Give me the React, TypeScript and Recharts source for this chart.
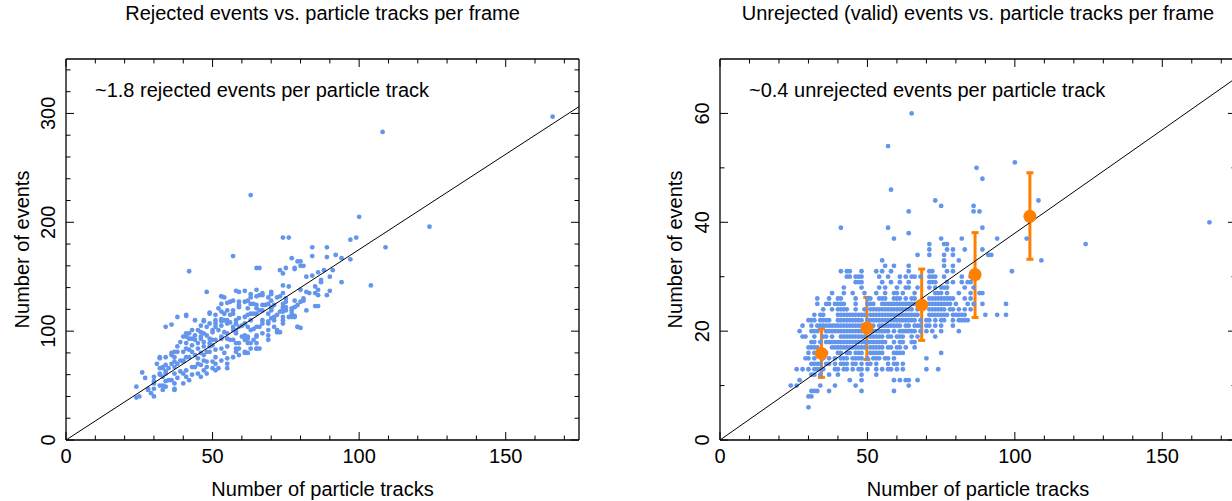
import { ScatterChart, Scatter, XAxis, YAxis, ErrorBar } from 'recharts';

const FONT = '"Liberation Sans", Arial, Helvetica, sans-serif';
const BLUE = '#6495ED';
const ORANGE = '#FF7F00';
const FS = 20;

// rejected events vs particle tracks, [tracks, events]
const REJECTED: [number, number][] = [
  [166, 297], [108, 283], [63, 225], [100, 205], [124, 196], [109, 177], [104, 142], [97, 184], [99, 186],
  [97, 166], [94, 145], [91, 156], [92, 170], [89, 177], [89, 168], [84, 177], [84, 169], [74, 186], [76, 186],
  [57, 169], [42, 155], [48, 136], [77, 167], [79, 164], [73, 156], [75, 158], [65, 158], [66, 158], [78, 158],
  [80, 160], [53, 132], [34, 104], [36, 106], [38, 113], [41, 114], [24, 49], [24, 39], [26, 62], [27, 57],
  [30, 40], [28, 46], [37, 46], [55, 66], [79, 104], [72, 99], [61, 80], [65, 84], [85, 123], [82, 119],
  [89, 133], [90, 137],
  [80, 164], [81, 160], [94, 167], [74, 153], [78, 157], [82, 150], [84, 151], [86, 154], [88, 156], [87, 145],
  [90, 150], [86, 138], [86, 133], [86, 123], [80, 103], [78, 113], [77, 113], [78, 122], [80, 127], [81, 130],
  [82, 136], [80, 138], [75, 127], [74, 122], [73, 118], [74, 113], [71, 110], [73, 99], [75, 119], [77, 121],
  [74, 142], [76, 141], [74, 135], [72, 131], [70, 136], [70, 128], [69, 125], [70, 121], [67, 135], [66, 133],
  [65, 138], [63, 131], [62, 128], [64, 125], [62, 121], [65, 121], [58, 137], [61, 137], [54, 131], [55, 126],
  [57, 128], [59, 127], [59, 122], [57, 119], [56, 115], [49, 117], [51, 115], [53, 111], [54, 110], [55, 107],
  [53, 105], [51, 104], [50, 101], [47, 110], [46, 105], [44, 110], [43, 101], [41, 98], [42, 93], [44, 96],
  [46, 99], [48, 96], [49, 93], [41, 95], [39, 90], [38, 86], [37, 81], [36, 78], [34, 76], [37, 76],
  [40, 81], [41, 84], [43, 87], [45, 89], [47, 90], [49, 86], [50, 87], [51, 92], [53, 84], [55, 86],
  [54, 80], [51, 76], [49, 81], [47, 78], [45, 75], [43, 81], [42, 76], [40, 72], [38, 70], [37, 67],
  [35, 66], [33, 66], [32, 76], [31, 70], [32, 66], [30, 58], [32, 60], [33, 58], [35, 55], [37, 52],
  [38, 57], [40, 61], [41, 64], [43, 67], [45, 70], [47, 73], [48, 67], [51, 70], [58, 81], [59, 84],
  [61, 81], [63, 84], [65, 89], [62, 89], [60, 95], [62, 95], [65, 96], [67, 98], [69, 101], [66, 104],
  [64, 102], [67, 110], [69, 107], [71, 104], [63, 110], [61, 107], [59, 104], [58, 101], [57, 104], [55, 98],
  [53, 95], [56, 92], [58, 89], [55, 70], [51, 64], [48, 61], [46, 58], [42, 55], [34, 49], [33, 50],
  [30, 52], [28, 47], [29, 43], [25, 40], [72, 101], [69, 96], [71, 113], [67, 124], [66, 119], [65, 116],
  [69, 116], [63, 116], [61, 113], [58, 110], [56, 108], [54, 116], [52, 121], [53, 125], [51, 110], [48, 104],
  [46, 93], [45, 84], [43, 93], [39, 73], [36, 70], [34, 61], [70, 122], [74, 120], [77, 116], [74, 110],
  [76, 113], [81, 128], [83, 135], [85, 141], [87, 147], [85, 135],
  [53, 132], [59, 136], [63, 134], [65, 132], [67, 133], [69, 131], [70, 134], [73, 132], [75, 130], [78, 128],
  [79, 124], [78, 114], [79, 104], [74, 107], [56, 127], [59, 124], [61, 127], [63, 125], [65, 124], [67, 119],
  [64, 116], [62, 115], [59, 112], [57, 116], [55, 119], [53, 118], [49, 116], [47, 109], [49, 107], [51, 107],
  [53, 109], [55, 110], [58, 107], [60, 105], [62, 104], [63, 101], [65, 104], [67, 107], [69, 109], [70, 112],
  [72, 115], [74, 118], [75, 122], [77, 119], [70, 119], [68, 124], [71, 124], [74, 125], [41, 115], [45, 101],
  [42, 98], [40, 95], [41, 89], [44, 92], [46, 95], [47, 98], [50, 99], [52, 101], [54, 99], [57, 101],
  [58, 98], [61, 96], [62, 93], [64, 92], [65, 95], [69, 92], [66, 84], [65, 84], [62, 80], [59, 89],
  [57, 92], [55, 93], [53, 93], [50, 92], [49, 89], [47, 86], [42, 83], [38, 81], [36, 80], [32, 75],
  [33, 67], [34, 69], [37, 72], [40, 73], [41, 76], [44, 78], [46, 80], [48, 81], [51, 83], [58, 84],
  [59, 78], [57, 76], [55, 75], [53, 73], [50, 72], [48, 72], [46, 69], [44, 67], [39, 63], [37, 61],
  [34, 63], [32, 61], [30, 54], [32, 50], [34, 54], [36, 55], [41, 58], [43, 60], [45, 61], [47, 64],
  [50, 66], [52, 66], [40, 52], [37, 47], [30, 47], [33, 46], [63, 89], [61, 92],
];

// unrejected events: [events, tracks of each frame with that many events]
const VALID_ROWS: [number, number[]][] = [
  [60, [65]], [54, [57]], [51, [100]], [50, [87]], [48, [89]], [46, [58]],
  [44, [73, 108]], [43, [75, 86]], [42, [64, 86, 88]], [40, [166]], [39, [41, 57, 89]], [38, [64]],
  [37, [59, 75, 82, 94, 104]], [36, [71, 76, 77, 124]], [35, [71, 77, 79, 83, 89]],
  [34, [67, 71, 76, 79, 91, 92]], [33, [55, 76, 81, 109]], [32, [56, 59, 64, 76, 79]],
  [31, [41, 43, 44, 48, 53, 55, 58, 64, 71, 72, 77, 79, 99]],
  [30, [43, 44, 46, 47, 48, 54, 57, 61, 63, 65, 66, 68, 71, 72, 73, 76, 82, 85]],
  [29, [46, 47, 48, 55, 58, 61, 64, 71, 72, 73, 77, 79, 82, 84, 85]],
  [28, [42, 48, 54, 56, 60, 63, 64, 67, 71, 73, 75, 76, 77, 83, 86]],
  [27, [38, 42, 45, 49, 53, 56, 59, 60, 62, 66, 73, 74, 75, 77, 81, 85, 88, 89]],
  [26, [33, 37, 40, 41, 46, 50, 51, 54, 55, 56, 59, 60, 61, 63, 65, 66, 71, 72, 73, 74, 75, 76, 77, 78, 79, 83, 85]],
  [25, [33, 36, 37, 39, 40, 41, 42, 46, 50, 51, 52, 55, 56, 57, 58, 59, 60, 61, 62, 63, 64, 65, 66, 70, 71, 72, 73, 74, 75, 76, 77, 78, 80, 84, 86, 89, 97]],
  [24, [35, 38, 40, 41, 42, 43, 46, 49, 51, 52, 53, 54, 55, 56, 57, 58, 59, 60, 61, 62, 63, 64, 65, 67, 71, 72, 73, 74, 75, 76, 78, 79, 81, 83, 85]],
  [23, [32, 34, 35, 40, 41, 42, 43, 44, 45, 46, 47, 48, 49, 51, 52, 53, 54, 55, 56, 57, 58, 59, 60, 61, 62, 63, 64, 65, 66, 67, 71, 72, 73, 74, 75, 76, 77, 79, 80, 81, 82, 83, 90, 94, 97]],
  [22, [30, 31, 32, 34, 35, 36, 37, 40, 41, 42, 43, 44, 45, 46, 47, 48, 50, 51, 52, 53, 54, 55, 56, 57, 58, 59, 60, 61, 62, 63, 64, 65, 66, 68, 70, 71, 73, 75, 76, 79, 81, 82, 83, 84]],
  [21, [28, 31, 33, 34, 35, 36, 37, 38, 39, 40, 41, 42, 43, 44, 45, 46, 47, 48, 49, 50, 52, 54, 55, 56, 57, 58, 59, 60, 61, 63, 64, 66, 67, 68, 70, 71, 73, 75, 79]],
  [20, [27, 31, 32, 33, 36, 37, 38, 39, 40, 41, 42, 43, 44, 45, 46, 47, 48, 49, 50, 51, 52, 53, 54, 55, 56, 57, 59, 61, 62, 63, 64, 65, 66, 68, 70, 72, 75, 81]],
  [19, [28, 29, 32, 35, 36, 38, 41, 42, 43, 44, 45, 46, 47, 48, 49, 51, 52, 53, 54, 55, 57, 58, 60, 61, 62, 65, 67, 73]],
  [18, [31, 32, 34, 36, 37, 38, 39, 40, 41, 42, 43, 44, 45, 46, 47, 48, 49, 50, 51, 52, 53, 54, 55, 56, 59, 61, 62, 65, 66]],
  [17, [30, 31, 32, 33, 38, 39, 40, 41, 42, 43, 44, 45, 46, 47, 48, 49, 51, 52, 53, 54, 55, 57, 58, 60, 61, 63, 66]],
  [16, [30, 32, 34, 36, 40, 41, 43, 44, 46, 47, 48, 51, 52, 53, 54, 55, 59, 60, 61, 62, 75]],
  [15, [29, 30, 32, 35, 37, 39, 41, 42, 43, 45, 46, 47, 48, 50, 52, 53, 54, 56, 57, 59, 70]],
  [14, [31, 32, 33, 34, 36, 37, 39, 41, 42, 43, 45, 46, 48, 50, 51, 53, 57, 59, 60, 62]],
  [13, [26, 28, 30, 32, 33, 34, 35, 39, 40, 42, 43, 45, 47, 48, 50, 53, 55, 57, 58, 60, 62, 70, 74]],
  [12, [31, 32, 34, 37, 40, 48, 53]],
  [11, [27, 44, 48, 59, 61, 63, 64, 67]],
  [10, [24, 26, 34, 39, 46, 64]],
  [9, [31, 32, 33, 37, 48, 59]],
  [8, [30, 31]],
  [6, [30]],
];

// binned means with spread
const BIN_X = [34.4, 49.8, 68.4, 86.5, 105.1];
const BIN_Y = [15.9, 20.6, 24.8, 30.4, 41.1];
const BIN_LO = [11.5, 14.8, 18.3, 22.5, 33.2];
const BIN_HI = [20.4, 26.2, 31.4, 38.1, 49.1];

const REJECTED_SLOPE = 1.75;
const VALID_SLOPE = 0.38;

const X_MAX = 175;
const X_TICKS = [0, 10, 20, 30, 40, 50, 60, 70, 80, 90, 100, 110, 120, 130, 140, 150, 160, 170];
const X_LABELS = [0, 50, 100, 150];
const LEFT_Y_TICKS = [0, 20, 40, 60, 80, 100, 120, 140, 160, 180, 200, 220, 240, 260, 280, 300, 320, 340];
const LEFT_Y_LABELS = [0, 100, 200, 300];
const RIGHT_Y_TICKS = [0, 10, 20, 30, 40, 50, 60];
const RIGHT_Y_LABELS = [0, 20, 40, 60];

const rejectedData = REJECTED.map(([x, y]) => ({ x, y }));
const validData = VALID_ROWS.flatMap(([y, xs]) => xs.map((x) => ({ x, y })));
const binData = BIN_X.map((x, i) => ({ x, y: BIN_Y[i], err: [BIN_Y[i] - BIN_LO[i], BIN_HI[i] - BIN_Y[i]] }));
const fitLine = (slope: number) => [{ x: 0, y: 0 }, { x: X_MAX, y: X_MAX * slope }];

const FRAME = { stroke: '#000', strokeWidth: 1.3 };

const tickLen = (v: number, labels: number[]) => (labels.includes(v) ? 8 : 4.5);

const bottomTick = (labels: number[]) => (p: any) => {
  const { x, y, payload } = p;
  const v = payload.value;
  return (
    <g>
      <line x1={x} x2={x} y1={y} y2={y - tickLen(v, labels)} stroke="#000" strokeWidth={1} />
      {labels.includes(v) && (
        <text x={x} y={y + 22.5} textAnchor="middle" fontSize={FS} fontFamily={FONT} fill="#000">{v}</text>
      )}
    </g>
  );
};

const topTick = (labels: number[]) => (p: any) => {
  const { x, y, payload } = p;
  return <line x1={x} x2={x} y1={y} y2={y + tickLen(payload.value, labels)} stroke="#000" strokeWidth={1} />;
};

const leftTick = (labels: number[]) => (p: any) => {
  const { x, y, payload } = p;
  const v = payload.value;
  const lx = x - 11;
  return (
    <g>
      <line x1={x} x2={x + tickLen(v, labels)} y1={y} y2={y} stroke="#000" strokeWidth={1} />
      {labels.includes(v) && (
        <text x={lx} y={y} transform={`rotate(-90, ${lx}, ${y})`} textAnchor="middle" fontSize={FS} fontFamily={FONT} fill="#000">{v}</text>
      )}
    </g>
  );
};

const rightTick = (labels: number[]) => (p: any) => {
  const { x, y, payload } = p;
  return <line x1={x} x2={x - tickLen(payload.value, labels)} y1={y} y2={y} stroke="#000" strokeWidth={1} />;
};

const dot = (r: number, fill: string) => (p: any) => <circle cx={p.cx} cy={p.cy} r={r} fill={fill} />;
const noDot = () => <g />;

interface PanelProps {
  left: number;
  marginLeft: number;
  marginRight: number;
  yMax: number;
  yTicks: number[];
  yLabels: number[];
  data: { x: number; y: number }[];
  slope: number;
  bins?: boolean;
}

function Panel({ left, marginLeft, marginRight, yMax, yTicks, yLabels, data, slope, bins }: PanelProps) {
  return (
    <div style={{ position: 'absolute', left, top: 0 }}>
      <ScatterChart width={640} height={501} margin={{ top: 39, right: marginRight, bottom: 21, left: marginLeft }}>
        <XAxis xAxisId={0} type="number" dataKey="x" domain={[0, X_MAX]} allowDataOverflow ticks={X_TICKS} interval={0}
          height={40} tickSize={0} tickMargin={0} tickLine={false} axisLine={FRAME} tick={bottomTick(X_LABELS)} />
        <XAxis xAxisId="top" orientation="top" type="number" dataKey="x" domain={[0, X_MAX]} allowDataOverflow ticks={X_TICKS} interval={0}
          height={20} tickSize={0} tickMargin={0} tickLine={false} axisLine={FRAME} tick={topTick(X_LABELS)} />
        <YAxis yAxisId={0} type="number" dataKey="y" domain={[0, yMax]} allowDataOverflow ticks={yTicks} interval={0}
          width={40} tickSize={0} tickMargin={0} tickLine={false} axisLine={FRAME} tick={leftTick(yLabels)} />
        <YAxis yAxisId="right" orientation="right" type="number" dataKey="y" domain={[0, yMax]} allowDataOverflow ticks={yTicks} interval={0}
          width={20} tickSize={0} tickMargin={0} tickLine={false} axisLine={FRAME} tick={rightTick(yLabels)} />
        <Scatter data={data} shape={dot(2.4, BLUE)} isAnimationActive={false} />
        <Scatter data={fitLine(slope)} xAxisId="top" yAxisId="right" line={{ stroke: '#000', strokeWidth: 1 }}
          shape={noDot} isAnimationActive={false} />
        {bins && (
          <Scatter data={binData} shape={dot(6.5, ORANGE)} isAnimationActive={false}>
            <ErrorBar dataKey="err" direction="y" width={3.5} stroke={ORANGE} strokeWidth={3} isAnimationActive={false} />
          </Scatter>
        )}
      </ScatterChart>
    </div>
  );
}

const textStyle = { fontFamily: FONT, fontSize: FS, fill: '#000' };

export default function App() {
  return (
    <div style={{ position: 'relative', width: 1232, height: 501, overflow: 'hidden', background: '#fff' }}>
      <style>{'body{margin:0}'}</style>
      <Panel left={0} marginLeft={26} marginRight={41} yMax={350} yTicks={LEFT_Y_TICKS} yLabels={LEFT_Y_LABELS}
        data={rejectedData} slope={REJECTED_SLOPE} />
      <Panel left={640} marginLeft={40} marginRight={24} yMax={70} yTicks={RIGHT_Y_TICKS} yLabels={RIGHT_Y_LABELS}
        data={validData} slope={VALID_SLOPE} bins />
      <svg width={1232} height={501} style={{ position: 'absolute', left: 0, top: 0, pointerEvents: 'none' }}>
        <text x={322.5} y={20} textAnchor="middle" style={textStyle}>Rejected events vs. particle tracks per frame</text>
        <text x={978} y={20} textAnchor="middle" style={textStyle}>Unrejected (valid) events vs. particle tracks per frame</text>
        <text x={95} y={97} style={textStyle}>~1.8 rejected events per particle track</text>
        <text x={749} y={97} style={textStyle}>~0.4 unrejected events per particle track</text>
        <text x={322.5} y={496} textAnchor="middle" style={textStyle}>Number of particle tracks</text>
        <text x={978} y={496} textAnchor="middle" style={textStyle}>Number of particle tracks</text>
        <text x={28.5} y={249.5} textAnchor="middle" transform="rotate(-90, 28.5, 249.5)" style={textStyle}>Number of events</text>
        <text x={682} y={249.5} textAnchor="middle" transform="rotate(-90, 682, 249.5)" style={textStyle}>Number of events</text>
      </svg>
    </div>
  );
}
